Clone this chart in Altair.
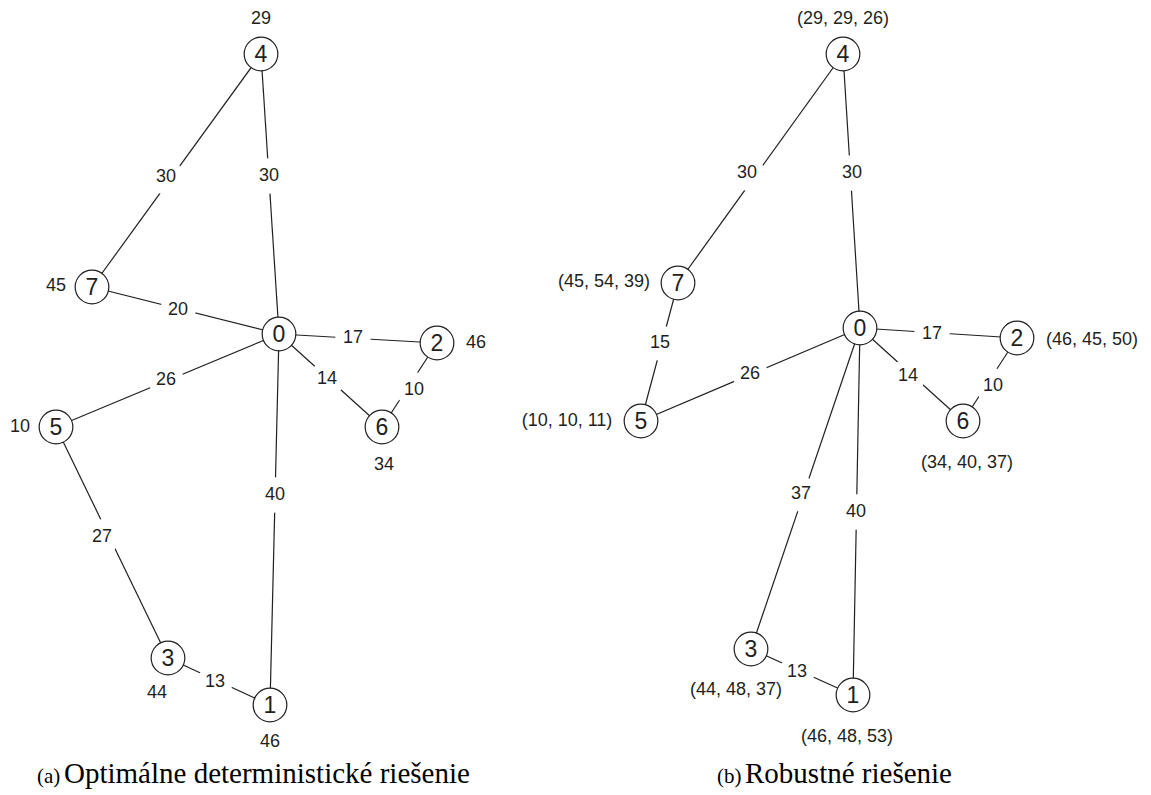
import altair as alt
import pandas as pd

# ---- data ----
node_ids = [0, 1, 2, 3, 4, 5, 6, 7]

# panel (a): optimal deterministic solution
a_x = [279, 270, 437, 168, 261, 56, 382, 92]
a_y = [334, 705, 343, 658, 54, 427, 427, 287]
a_edges = [(4, 7), (4, 0), (7, 0), (0, 2), (0, 6), (2, 6), (0, 5), (5, 3), (0, 1), (3, 1)]
a_weights = ["30", "30", "20", "17", "14", "10", "26", "27", "40", "13"]
a_wx = [166, 269, 178, 353, 327, 414, 166, 102, 275, 215]
a_wy = [177, 176, 310, 338, 379, 390, 380, 537, 495, 682]
a_lab_text = ["29", "45", "46", "34", "10", "44", "46"]
a_lab_x = [261, 56, 476, 384, 20, 157, 270]
a_lab_y = [19, 286, 343, 465, 427, 693, 742]

# panel (b): robust solution
b_x = [860, 853, 1017, 751, 843, 641, 963, 678]
b_y = [328, 695, 338, 649, 54, 421, 421, 283]
b_edges = [(4, 7), (4, 0), (7, 5), (0, 5), (0, 2), (0, 6), (2, 6), (0, 3), (0, 1), (3, 1)]
b_weights = ["30", "30", "15", "26", "17", "14", "10", "37", "40", "13"]
b_wx = [747, 852, 660, 750, 932, 908, 993, 801, 856, 797]
b_wy = [173, 173, 343, 374, 334, 376, 386, 494, 512, 672]
b_lab_text = ["(29, 29, 26)", "(45, 54, 39)", "(46, 45, 50)", "(10, 10, 11)",
              "(34, 40, 37)", "(44, 48, 37)", "(46, 48, 53)"]
b_lab_x = [843, 604, 1092, 567, 967, 736, 847]
b_lab_y = [19, 282, 340, 421, 463, 690, 737]

cap_tag = ["(a)", "(b)"]
cap_tag_x = [37, 717]
cap_text = ["Optimálne deterministické riešenie", "Robustné riešenie"]
cap_text_x = [64, 745]
cap_y = [783, 783]

# ---- tables ----
def node_table(xs, ys):
    return pd.DataFrame({"id": node_ids, "x": xs, "y": ys, "name": [str(i) for i in node_ids]})

na = node_table(a_x, a_y)
nb = node_table(b_x, b_y)
nodes = pd.concat([na, nb], ignore_index=True)

def edge_table(nt, edges):
    pos = nt.set_index("id")
    rows = []
    for s, t in edges:
        rows.append({"x": pos.loc[s, "x"], "y": pos.loc[s, "y"],
                     "x2": pos.loc[t, "x"], "y2": pos.loc[t, "y"]})
    return pd.DataFrame(rows)

edges = pd.concat([edge_table(na, a_edges), edge_table(nb, b_edges)], ignore_index=True)

wlabels = pd.DataFrame({"x": a_wx + b_wx, "y": a_wy + b_wy, "t": a_weights + b_weights})
nlabels = pd.DataFrame({"x": a_lab_x + b_lab_x, "y": a_lab_y + b_lab_y, "t": a_lab_text + b_lab_text})
captag = pd.DataFrame({"x": cap_tag_x, "y": cap_y, "t": cap_tag})
captxt = pd.DataFrame({"x": cap_text_x, "y": cap_y, "t": cap_text})

INK = "#231f20"
xs = alt.Scale(domain=[8, 1143], nice=False, zero=False)
ys = alt.Scale(domain=[8, 787], nice=False, zero=False, reverse=True)
X = alt.X("x:Q", scale=xs, axis=None)
Y = alt.Y("y:Q", scale=ys, axis=None)

edge_layer = alt.Chart(edges).mark_rule(color=INK, strokeWidth=1.2).encode(
    x=X, y=Y, x2="x2:Q", y2="y2:Q")

gap_layer = alt.Chart(wlabels).mark_circle(size=1250, color="white", opacity=1).encode(x=X, y=Y)

wtext = alt.Chart(wlabels).mark_text(font="Liberation Sans", fontSize=18, color=INK,
                                     baseline="middle", align="center").encode(x=X, y=Y, text="t:N")

node_layer = alt.Chart(nodes).mark_point(shape="circle", size=1134, filled=False, fill="white",
                                         stroke=INK, strokeWidth=1.2, opacity=1).encode(x=X, y=Y)

node_text = alt.Chart(nodes).mark_text(font="Liberation Sans", fontSize=23, color=INK,
                                       baseline="middle", align="center", dy=1).encode(x=X, y=Y, text="name:N")

ntext = alt.Chart(nlabels).mark_text(font="Liberation Sans", fontSize=18, color=INK,
                                     baseline="middle", align="center").encode(x=X, y=Y, text="t:N")

tag_text = alt.Chart(captag).mark_text(font="Liberation Serif", fontSize=21, color="black",
                                       baseline="alphabetic", align="left").encode(x=X, y=Y, text="t:N")
cap_layer = alt.Chart(captxt).mark_text(font="Liberation Serif", fontSize=29, color="black",
                                        baseline="alphabetic", align="left").encode(x=X, y=Y, text="t:N")

chart = alt.layer(edge_layer, gap_layer, wtext, node_layer, node_text, ntext, tag_text, cap_layer).properties(
    width=1135, height=779, padding=0, background="white"
).configure_view(stroke=None)

chart.save("out.html", embed_options={"renderer": "svg", "actions": False})
